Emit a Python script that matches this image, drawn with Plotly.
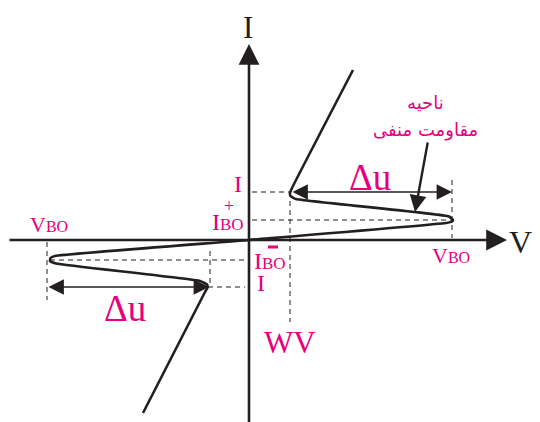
import plotly.graph_objects as go

# data coordinates: origin where the two axes cross (u to the right, v upward)
curve_u = [-106, -44, -41.5, -42, -49, -193, -199, -198.5, -194, 0, 197, 203, 204, 200, 47, 41.5, 41, 43, 104]
curve_v = [-173, -52, -47.5, -44.5, -41, -23.5, -21, -18, -16, 0, 17, 18.5, 20, 23.5, 41, 44, 47, 52, 170]

# dashed guide lines (u pairs, v pairs)
dash_lines = [
    ([3, 41], [48, 48]),          # I+ level
    ([41, 41], [48, -82]),        # WV drop line
    ([3, 203], [20, 20]),         # IBO+ level
    ([203, 203], [60, 2]),        # right VBO
    ([-199, -4], [-20, -20]),     # IBO- level
    ([-41, -4], [-47, -47]),      # I- level
    ([-39, -39], [-11, -47]),     # left corner drop
    ([-202, -202], [-2, -60]),    # left VBO
]

magenta = "#e6007e"
ink = "#231f20"
serif = "Liberation Serif"

fig = go.Figure()

for xs, ys in dash_lines:
    fig.add_trace(go.Scatter(x=xs, y=ys, mode="lines",
                             line=dict(color=ink, width=1, dash="5px,4px"),
                             hoverinfo="skip"))

fig.add_trace(go.Scatter(x=curve_u, y=curve_v, mode="lines",
                         line=dict(color=ink, width=2.6, shape="spline", smoothing=0.4),
                         hoverinfo="skip"))

def arrow(x0, y0, x1, y1, width, size, both=False):
    fig.add_annotation(x=x1, y=y1, ax=x0, ay=y0, xref="x", yref="y",
                       axref="x", ayref="y", text="", showarrow=True,
                       arrowhead=2, startarrowhead=2, arrowsize=size,
                       startarrowsize=size, arrowwidth=width, arrowcolor=ink,
                       arrowside="end+start" if both else "end", standoff=0,
                       startstandoff=0)

# axes
arrow(-241, 0, 258, 0, 2.6, 1.6)
arrow(0, -186, 0, 196, 2.6, 1.6)
# delta u arrows
arrow(42, 48, 203, 48, 1.4, 2.2, both=True)
arrow(-202, -47, -40, -47, 1.4, 2.2, both=True)
# negative resistance pointer
arrow(179, 99, 166, 28, 2.4, 1.4)

def label(x, y, text, size, color=magenta, family=serif, **kw):
    fig.add_annotation(x=x, y=y, xref="x", yref="y", text=text, showarrow=False,
                       font=dict(family=family, size=size, color=color), **kw)

label(-1, 232, "I", 31, ink, yanchor="top")
label(271, -2, "V", 32, ink)
label(-200, 16, "V<span style='font-size:16px'>BO</span>", 22)
label(202, -15, "V<span style='font-size:16px'>BO</span>", 22)
label(121, 63, "Δu", 37)
label(-124, -68, "Δu", 37)
label(-11, 56, "I", 24)
label(-20, 34, "+", 18)
label(-21, 18, "I<span style='font-size:17px'>BO</span>", 24)
label(21, -21, "I<span style='font-size:17px'>BO</span>", 24)
label(12, -43, "I", 24)
label(41, -102, "WV", 31)
label(176, 138, "ناحیه", 18, family="DejaVu Sans")
label(176, 110, "مقاومت منفی", 18, family="DejaVu Sans")

# bar over the lower IBO label
fig.add_shape(type="line", x0=19, x1=29, y0=-7, y1=-7, xref="x", yref="y",
              line=dict(color=magenta, width=3))

# page body has an 8px margin, so the figure is shrunk by that amount
fig.update_layout(
    width=532, height=414, margin=dict(l=0, r=0, t=0, b=0),
    paper_bgcolor="white", plot_bgcolor="white", showlegend=False,
    xaxis=dict(range=[-241, 291], visible=False, fixedrange=True),
    yaxis=dict(range=[-182, 232], visible=False, fixedrange=True),
)

fig.write_html("out.html")
